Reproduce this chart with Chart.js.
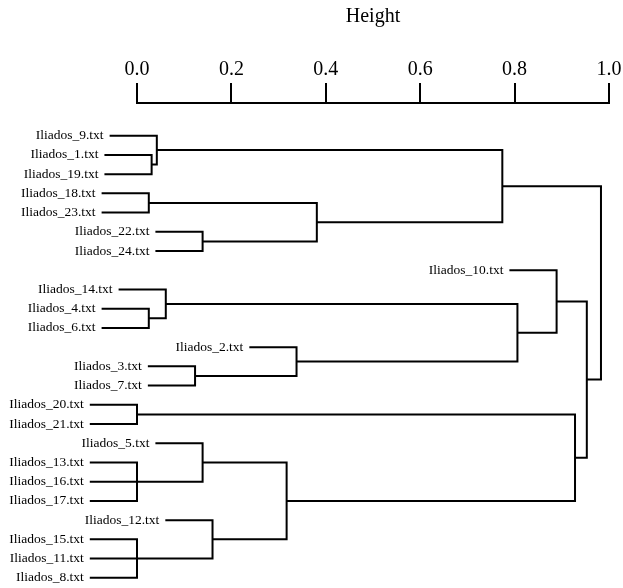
<!DOCTYPE html>
<html>
<head>
<meta charset="utf-8">
<script src="https://cdn.jsdelivr.net/npm/chart.js@4/dist/chart.umd.min.js"></script>
<style>
  html, body { margin: 0; padding: 0; background: #fff; }
  #c { display: block; }
</style>
</head>
<body>
<canvas id="c" width="623" height="588"></canvas>
<script>
// Leaf labels in display order (top to bottom)
const leafLabels = [
  "Iliados_9.txt", "Iliados_1.txt", "Iliados_19.txt", "Iliados_18.txt",
  "Iliados_23.txt", "Iliados_22.txt", "Iliados_24.txt", "Iliados_10.txt",
  "Iliados_14.txt", "Iliados_4.txt", "Iliados_6.txt", "Iliados_2.txt",
  "Iliados_3.txt", "Iliados_7.txt", "Iliados_20.txt", "Iliados_21.txt",
  "Iliados_5.txt", "Iliados_13.txt", "Iliados_16.txt", "Iliados_17.txt",
  "Iliados_12.txt", "Iliados_15.txt", "Iliados_11.txt", "Iliados_8.txt"
];
// Merge table (hclust style): negative = leaf number in display order, positive = earlier merge
const mergeLeft  = [-2, -1, -4, -6, 3, 2, -10, -9, -13, -12, 8, -8, -15, -18, -19, -17, -22, -23, -21, 16, 13, 12, 6];
const mergeRight = [-3,  1, -5, -7, 4, 5, -11,  7, -14,   9, 10, 11, -16, -20, 14, 15, -24, 17, 18, 19, 20, 21, 22];
const mergeHeights = [0.031, 0.042, 0.025, 0.139, 0.381, 0.774, 0.025, 0.061, 0.123, 0.338, 0.806, 0.889,
                      0.0, 0.0, 0.0, 0.139, 0.0, 0.0, 0.160, 0.317, 0.928, 0.953, 0.983];
const hang = 0.1;
const axisTicks = [0.0, 0.2, 0.4, 0.6, 0.8, 1.0];

// Build segments from the merge table
const mids = [];
const leafStart = new Array(leafLabels.length).fill(0);
const datasets = [];
function childInfo(c, parentH) {
  if (c < 0) {
    const i = -c;
    leafStart[i - 1] = parentH - hang;
    return { y: i, h: parentH - hang };
  }
  return { y: mids[c - 1], h: mergeHeights[c - 1] };
}
for (let k = 0; k < mergeHeights.length; k++) {
  const h = mergeHeights[k];
  const a = childInfo(mergeLeft[k], h);
  const b = childInfo(mergeRight[k], h);
  mids.push((a.y + b.y) / 2);
  datasets.push({
    data: [{ x: a.h, y: a.y }, { x: h, y: a.y }, { x: h, y: b.y }, { x: b.h, y: b.y }],
    showLine: true,
    borderColor: '#000',
    borderWidth: 2,
    pointRadius: 0,
    tension: 0,
    borderJoinStyle: 'miter',
    borderCapStyle: 'butt',
    clip: false,
    fill: false
  });
}

const leafLabelPlugin = {
  id: 'leafLabels',
  afterDatasetsDraw(chart) {
    const ctx = chart.ctx;
    const xs = chart.scales.x, ys = chart.scales.y;
    ctx.save();
    ctx.fillStyle = '#000';
    ctx.font = '13.5px "Liberation Serif"';
    ctx.textAlign = 'right';
    ctx.textBaseline = 'middle';
    leafLabels.forEach((lab, i) => {
      const px = xs.getPixelForValue(leafStart[i]) - 6;
      const py = ys.getPixelForValue(i + 1);
      ctx.fillText(lab, px, py);
    });
    ctx.restore();
  }
};

new Chart(document.getElementById('c'), {
  type: 'scatter',
  data: { datasets },
  options: {
    responsive: false,
    animation: false,
    events: [],
    layout: { padding: { left: 137, right: 14, top: 0, bottom: 0 } },
    plugins: { legend: { display: false }, tooltip: { enabled: false }, title: { display: false } },
    scales: {
      x: {
        type: 'linear',
        position: 'top',
        min: 0,
        max: 1,
        afterBuildTicks(scale) { scale.ticks = axisTicks.map(v => ({ value: v })); },
        afterFit(scale) { scale.height = 103; },
        ticks: {
          color: '#000',
          font: { family: 'Liberation Serif', size: 20 },
          padding: 1,
          maxRotation: 0,
          autoSkip: false,
          callback: v => Number(v).toFixed(1)
        },
        grid: {
          display: true,
          drawOnChartArea: false,
          drawTicks: true,
          tickLength: 20,
          color: '#000',
          lineWidth: 2
        },
        border: { display: true, color: '#000', width: 2 },
        title: {
          display: true,
          text: 'Height',
          color: '#000',
          font: { family: 'Liberation Serif', size: 20 },
          padding: { top: 5, bottom: 0 }
        }
      },
      y: {
        type: 'linear',
        display: false,
        reverse: true,
        min: -0.70,
        max: 24.53
      }
    }
  },
  plugins: [leafLabelPlugin]
});
</script>
</body>
</html>
